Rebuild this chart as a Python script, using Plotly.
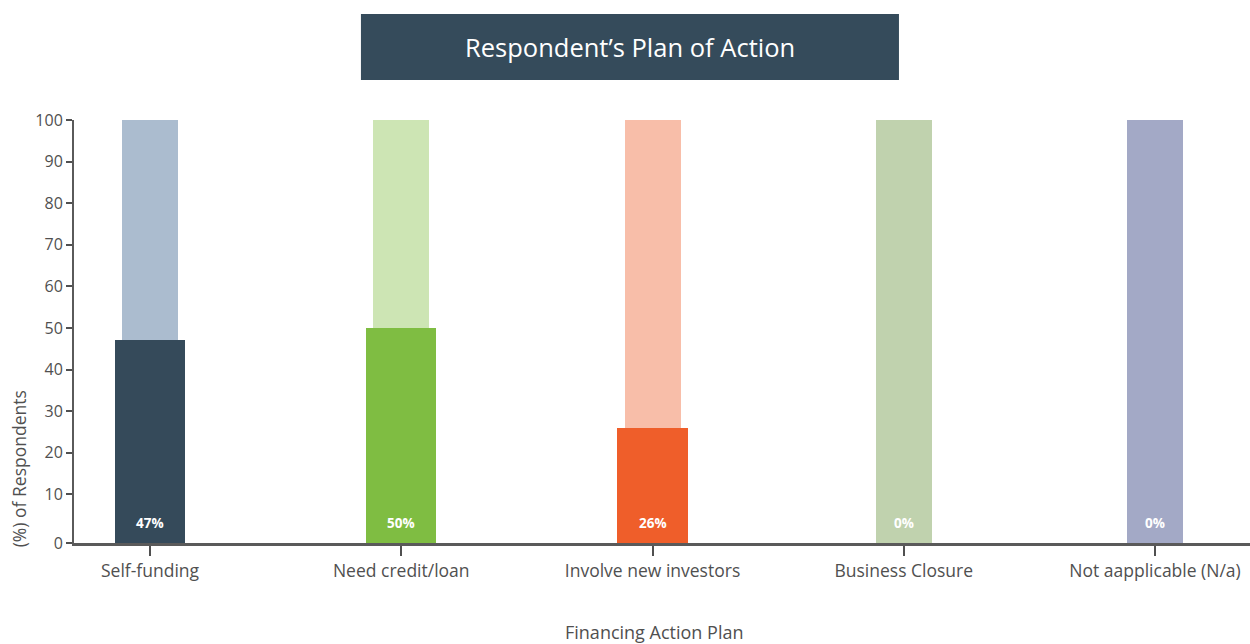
import plotly.graph_objects as go

# Survey categories and shares (%)
categories = ["Self-funding", "Need credit/loan", "Involve new investors",
              "Business Closure", "Not aapplicable (N/a)"]
shares = [47, 50, 26, 0, 0]
full_scale = [100, 100, 100, 100, 100]
y_ticks = [10, 20, 30, 40, 50, 60, 70, 80, 90, 100]

solid_colors = ["#354a5a", "#7fbd42", "#ef5e2a", "#c0d2ae", "#a3a9c6"]
light_colors = ["#abbccf", "#cde5b4", "#f8bea9", "#c0d2ae", "#a3a9c6"]

FONT = "Open Sans"
GREY = "#505050"

# The value axis floor sits a little below zero; non-empty bars rise from that floor
Y_FLOOR = -1.7


def from_floor(values):
    return [v - Y_FLOOR if v > 0 else 0 for v in values]


x_pos = list(range(len(categories)))

fig = go.Figure()

# Light 100% backdrop bars
fig.add_trace(go.Bar(
    x=x_pos, y=from_floor(full_scale), base=Y_FLOOR, width=0.223,
    marker=dict(color=light_colors, line=dict(width=0)),
    hoverinfo="skip", showlegend=False,
))

# Actual share bars
fig.add_trace(go.Bar(
    x=x_pos, y=from_floor(shares), base=Y_FLOOR, width=0.279,
    marker=dict(color=solid_colors, line=dict(width=0)),
    hoverinfo="skip", showlegend=False,
))

# Value labels near the base of each bar
for i, v in enumerate(shares):
    fig.add_annotation(
        x=i, y=Y_FLOOR, xref="x", yref="y", yanchor="middle",
        yshift=20, text=f"<b>{v}%</b>", showarrow=False,
        font=dict(family=FONT, size=13.5, color="#ffffff"),
    )

# Title banner
fig.add_shape(type="rect", xref="paper", yref="paper",
              x0=0.244, x1=0.7015, y0=1.0946, y1=1.2506,
              fillcolor="#354b5b", line=dict(width=0), layer="above")
fig.add_annotation(xref="paper", yref="paper", x=0.4728, y=1.1726,
                   text="Respondent’s Plan of Action", showarrow=False,
                   font=dict(family=FONT, size=25.5, color="#ffffff"),
                   xanchor="center", yanchor="middle")

# Axis titles
fig.add_annotation(xref="paper", yref="paper", x=-0.0465, y=0.175,
                   text="(%) of Respondents", textangle=-90, showarrow=False,
                   font=dict(family=FONT, size=17.5, color=GREY),
                   xanchor="center", yanchor="middle")
fig.add_annotation(xref="paper", yref="paper", x=0.494, y=-0.2115,
                   text="Financing Action Plan", showarrow=False,
                   font=dict(family=FONT, size=18, color=GREY),
                   xanchor="center", yanchor="middle")

fig.update_layout(
    width=1250, height=644,
    margin=dict(l=74, r=0, t=120, b=101),
    paper_bgcolor="#ffffff", plot_bgcolor="#ffffff",
    barmode="overlay", bargap=0,
    font=dict(family=FONT, size=16, color=GREY),
    xaxis=dict(
        range=[-0.3025, 4.378],
        tickmode="array", tickvals=x_pos, ticktext=categories,
        showgrid=False, zeroline=False,
        showline=True, linecolor="#5a5a5a", linewidth=3,
        ticks="outside", ticklen=10, tickwidth=1.5, tickcolor=GREY,
        tickfont=dict(family=FONT, size=17.5, color=GREY),
        fixedrange=True,
    ),
    yaxis=dict(
        range=[Y_FLOOR, 100],
        tickmode="array", tickvals=[Y_FLOOR] + y_ticks,
        ticktext=["0"] + [str(t) for t in y_ticks],
        showgrid=False, zeroline=False,
        showline=True, linecolor="#5a5a5a", linewidth=2,
        ticks="outside", ticklen=6, tickwidth=1.5, tickcolor=GREY,
        tickfont=dict(family=FONT, size=16, color=GREY),
        fixedrange=True,
    ),
)

fig.write_html("out.html", config={"displayModeBar": False})
